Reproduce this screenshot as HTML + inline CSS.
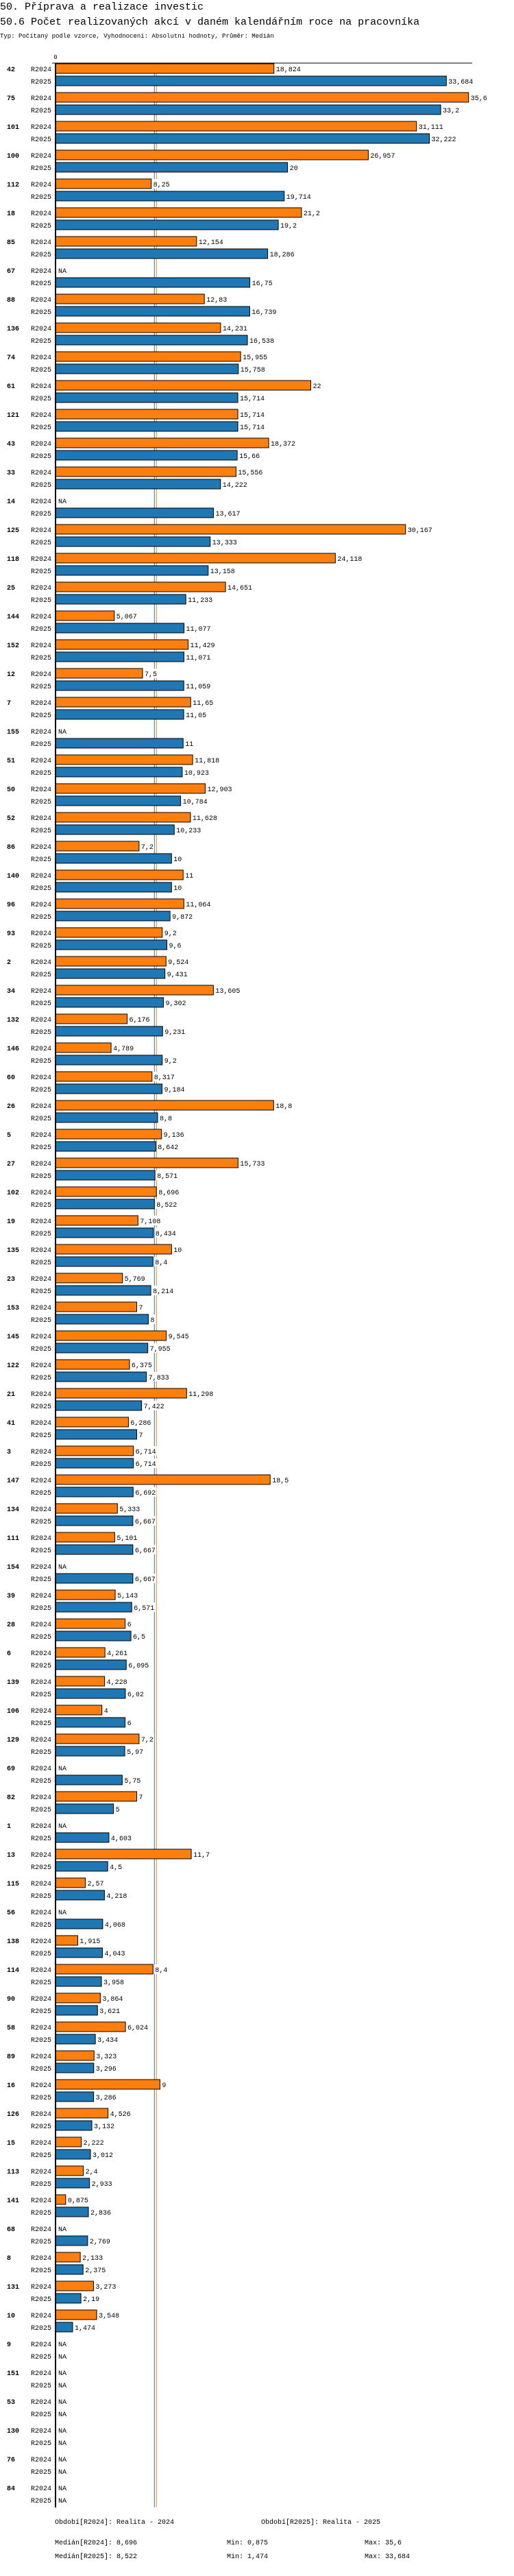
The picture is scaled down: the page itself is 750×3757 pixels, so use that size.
<!DOCTYPE html>
<html><head><meta charset="utf-8">
<style>
body{margin:0;background:#fff;width:750px;height:3752px;overflow:hidden;font-family:"Liberation Mono",monospace;}
svg text{font-family:"Liberation Mono",monospace;}
</style></head>
<body>
<svg id="chart" width="750" height="3752" xmlns="http://www.w3.org/2000/svg">
<text x="0" y="14" font-size="15">50. Příprava a realizace investic</text>
<text x="0" y="36" font-size="15">50.6 Počet realizovaných akcí v daném kalendářním roce na pracovníka</text>
<text x="0" y="55" font-size="9">Typ: Počítaný podle vzorce, Vyhodnocení: Absolutní hodnoty, Průměr: Medián</text>
<g id="plot"></g>
</svg>
<script>
const categories=["42","75","101","100","112","18","85","67","88","136","74","61","121","43","33","14","125","118","25","144","152","12","7","155","51","50","52","86","140","96","93","2","34","132","146","60","26","5","27","102","19","135","23","153","145","122","21","41","3","147","134","111","154","39","28","6","139","106","129","69","82","1","13","115","56","138","114","90","58","89","16","126","15","113","141","68","8","131","10","9","151","53","130","76","84"];
const r2024=[18.824,35.6,31.111,26.957,8.25,21.2,12.154,null,12.83,14.231,15.955,22,15.714,18.372,15.556,null,30.167,24.118,14.651,5.067,11.429,7.5,11.65,null,11.818,12.903,11.628,7.2,11,11.064,9.2,9.524,13.605,6.176,4.789,8.317,18.8,9.136,15.733,8.696,7.108,10,5.769,7,9.545,6.375,11.298,6.286,6.714,18.5,5.333,5.101,null,5.143,6,4.261,4.228,4,7.2,null,7,null,11.7,2.57,null,1.915,8.4,3.864,6.024,3.323,9,4.526,2.222,2.4,0.875,null,2.133,3.273,3.548,null,null,null,null,null,null];
const r2025=[33.684,33.2,32.222,20,19.714,19.2,18.286,16.75,16.739,16.538,15.758,15.714,15.714,15.66,14.222,13.617,13.333,13.158,11.233,11.077,11.071,11.059,11.05,11,10.923,10.784,10.233,10,10,9.872,9.6,9.431,9.302,9.231,9.2,9.184,8.8,8.642,8.571,8.522,8.434,8.4,8.214,8,7.955,7.833,7.422,7,6.714,6.692,6.667,6.667,6.667,6.571,6.5,6.095,6.02,6,5.97,5.75,5,4.603,4.5,4.218,4.068,4.043,3.958,3.621,3.434,3.296,3.286,3.132,3.012,2.933,2.836,2.769,2.375,2.19,1.474,null,null,null,null,null,null];
const seriesNames=["R2024","R2025"];
const medians=[8.696,8.522];
const mins=[0.875,1.474];
const maxs=[35.6,33.684];
const periodLabels=["Období[R2024]: Realita - 2024","Období[R2025]: Realita - 2025"];

const NS="http://www.w3.org/2000/svg";
const X0=81, PX=16.93, TOP=92, PITCH=42;
function xs(v){return X0+v*PX;}
function gy(i){return TOP+1+i*PITCH;}
const plot=document.getElementById('plot');
function mk(tag,attrs,parent){const e=document.createElementNS(NS,tag);for(const k in attrs)e.setAttribute(k,attrs[k]);(parent||plot).appendChild(e);return e;}
function fmt(v){return String(v).replace('.',',');}
const bottom=gy(categories.length-1)+36;
const colors=["#ff7f0e","#1f77b4"];

categories.forEach((c,i)=>{
  const g=mk('g',{});
  
  
  const y=gy(i);
  const gl=mk('text',{x:10,y:y+11,'font-size':10,'font-weight':'bold'},g);gl.textContent=c;
  
  
  [r2024,r2025].forEach((arr,s)=>{
    const by=y+s*18;
    const sl=mk('text',{x:45,y:by+11,'font-size':10},g);sl.textContent=seriesNames[s];
    
    
    const v=arr[i];
    if(v===null){
      const t=mk('text',{x:85,y:by+11,'font-size':10},g);t.textContent='NA';
      
      
    }else{
      const r=mk('rect',{x:X0,y:by,width:v*PX,height:14,fill:colors[s],stroke:'#000','stroke-width':1},g);
      
      
      const txt=fmt(v);
      const tx=xs(v)+3;
      mk('rect',{x:tx-1,y:by,width:txt.length*6+2,height:14,fill:'#fff'},g);
      const t=mk('text',{x:tx,y:by+11,'font-size':10},g);t.textContent=txt;
      
      
    }
  });
});
// median lines (drawn before labels would be nicer; insert at start)
[1,0].forEach(s=>{
  const l=document.createElementNS(NS,'line');
  l.setAttribute('x1',xs(medians[s]));l.setAttribute('x2',xs(medians[s]));
  l.setAttribute('y1',TOP);l.setAttribute('y2',bottom);
  l.setAttribute('stroke',colors[s]);l.setAttribute('stroke-width',1);
  
  
  plot.insertBefore(l,plot.firstChild);
});
const ax=mk('line',{x1:76,x2:689,y1:TOP,y2:TOP,stroke:'#000','stroke-width':1});


const ay=mk('line',{x1:X0,x2:X0,y1:TOP,y2:bottom,stroke:'#000','stroke-width':2});


const z=mk('text',{x:X0,y:TOP-6,'font-size':9,'text-anchor':'middle'});z.textContent='0';


// legend
const L=bottom+24;
const p1=mk('text',{x:80,y:L,'font-size':10});p1.textContent=periodLabels[0];


const p2=mk('text',{x:381,y:L,'font-size':10});p2.textContent=periodLabels[1];


[0,1].forEach(s=>{
  const yy=L+30+s*20;
  const a=mk('text',{x:80,y:yy,'font-size':10});a.textContent='Medián['+seriesNames[s]+']: '+fmt(medians[s]);
  
  
  const b=mk('text',{x:331,y:yy,'font-size':10});b.textContent='Min: '+fmt(mins[s]);
  
  
  const c=mk('text',{x:532,y:yy,'font-size':10});c.textContent='Max: '+fmt(maxs[s]);
  
  
});
</script>
</body></html>
